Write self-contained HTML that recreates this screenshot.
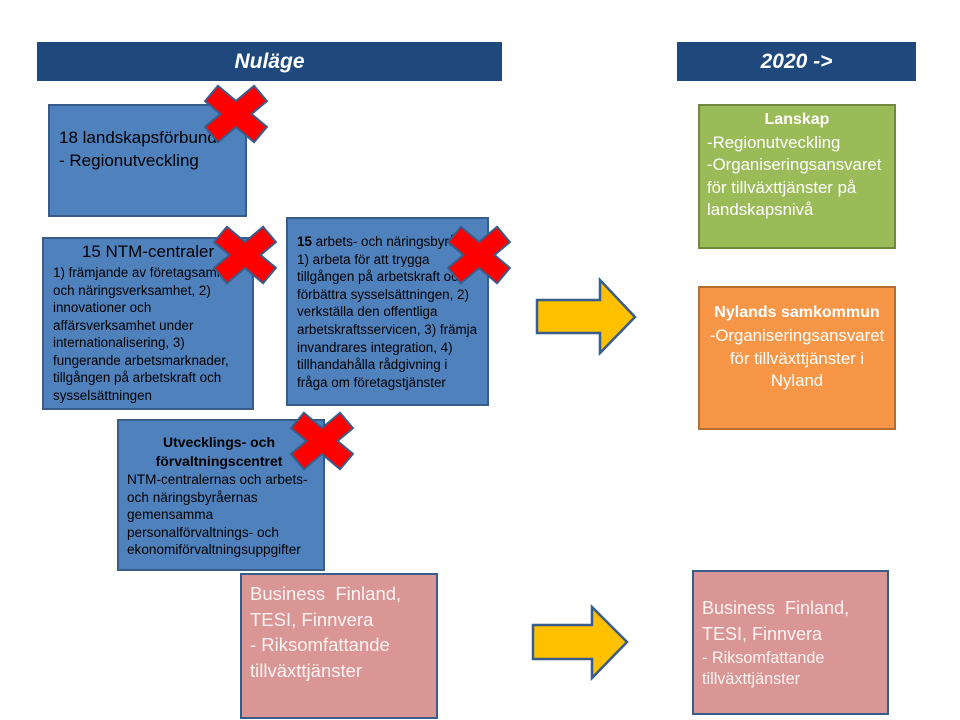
<!DOCTYPE html>
<html>
<head>
<meta charset="utf-8">
<style>
  html,body{margin:0;padding:0;background:#fff;}
  #c{position:relative;width:960px;height:720px;overflow:hidden;background:#fff;font-family:"Liberation Sans",Arial,sans-serif;}
  .bar{position:absolute;background:#1f497d;color:#fff;font-weight:bold;font-style:italic;font-size:21px;text-align:center;line-height:39px;height:39px;}
  .box{position:absolute;box-sizing:border-box;}
  .blue{background:#4f81bd;border:2px solid #385d8a;}
  .pink{background:#d99694;border:2.5px solid #385d8a;}
  .green{background:#9bbb59;border:2.5px solid #71893f;}
  .orange{background:#f79646;border:2.5px solid #b66d31;}
  .t{position:absolute;white-space:nowrap;}
  svg{position:absolute;left:0;top:0;}
</style>
</head>
<body>
<div id="c">
  <div class="bar" style="left:37px;top:42px;width:465px;">Nuläge</div>
  <div class="bar" style="left:677px;top:42px;width:239px;">2020 -&gt;</div>

  <!-- Box 1 -->
  <div class="box blue" style="left:48px;top:104px;width:199px;height:113px;"></div>
  <div class="t" style="left:59px;top:126px;font-size:17px;line-height:23px;color:#000;">18 landskapsförbund<br>- Regionutveckling</div>

  <!-- NTM -->
  <div class="box blue" style="left:42px;top:237px;width:212px;height:173px;"></div>
  <div class="t" style="left:42px;width:212px;text-align:center;top:241px;font-size:17px;line-height:22px;color:#000;">15 NTM-centraler</div>
  <div class="t" style="left:53px;top:264px;font-size:13.4px;line-height:17.5px;color:#000;">1) främjande av företagsamhet<br>och näringsverksamhet, 2)<br>innovationer och<br>affärsverksamhet under<br>internationalisering, 3)<br>fungerande arbetsmarknader,<br>tillgången på arbetskraft och<br>sysselsättningen</div>

  <!-- Arbets -->
  <div class="box blue" style="left:286px;top:217px;width:203px;height:189px;"></div>
  <div class="t" style="left:297px;top:233px;font-size:13.4px;line-height:17.6px;color:#000;"><b>15</b> arbets- och näringsbyrån<br>1) arbeta för att trygga<br>tillgången på arbetskraft och<br>förbättra sysselsättningen, 2)<br>verkställa den offentliga<br>arbetskraftsservicen, 3) främja<br>invandrares integration, 4)<br>tillhandahålla rådgivning i<br>fråga om företagstjänster</div>

  <!-- Utvecklings -->
  <div class="box blue" style="left:117px;top:419px;width:208px;height:152px;"></div>
  <div class="t" style="left:117px;width:204px;text-align:center;top:433px;font-size:14px;line-height:19px;font-weight:bold;color:#000;">Utvecklings- och<br>förvaltningscentret</div>
  <div class="t" style="left:127px;top:471px;font-size:13.6px;line-height:17.5px;color:#000;">NTM-centralernas och arbets-<br>och näringsbyråernas<br>gemensamma<br>personalförvaltnings- och<br>ekonomiförvaltningsuppgifter</div>

  <!-- Business left -->
  <div class="box pink" style="left:240px;top:573px;width:198px;height:146px;"></div>
  <div class="t" style="left:250px;top:581px;font-size:18.5px;line-height:25.7px;color:#fff3f3;">Business&nbsp; Finland,<br>TESI, Finnvera<br>- Riksomfattande<br>tillväxttjänster</div>

  <!-- Lanskap -->
  <div class="box green" style="left:698px;top:104px;width:198px;height:145px;"></div>
  <div class="t" style="left:698px;width:198px;text-align:center;top:110px;font-size:16px;line-height:20px;font-weight:bold;color:#fff;">Lanskap</div>
  <div class="t" style="left:707px;top:132px;font-size:16.8px;line-height:22.4px;color:#fff;">-Regionutveckling<br>-Organiseringsansvaret<br>för tillväxttjänster på<br>landskapsnivå</div>

  <!-- Nylands -->
  <div class="box orange" style="left:698px;top:286px;width:198px;height:144px;"></div>
  <div class="t" style="left:698px;width:198px;text-align:center;top:303px;font-size:16px;line-height:20px;font-weight:bold;color:#fff;">Nylands samkommun</div>
  <div class="t" style="left:698px;width:198px;text-align:center;top:325px;font-size:16.8px;line-height:22.5px;color:#fff;">-Organiseringsansvaret<br>för tillväxttjänster i<br>Nyland</div>

  <!-- Business right -->
  <div class="box pink" style="left:692px;top:570px;width:197px;height:145px;"></div>
  <div class="t" style="left:702px;top:595px;font-size:18px;line-height:26px;color:#fff3f3;">Business&nbsp; Finland,<br>TESI, Finnvera</div>
  <div class="t" style="left:702px;top:648px;font-size:16.2px;line-height:20.5px;color:#fff3f3;">- Riksomfattande<br>tillväxttjänster</div>

  <svg width="960" height="720" viewBox="0 0 960 720">
    <!-- arrows -->
    <polygon points="537,300 600,300 600,280 635,317 600,353 600,333 537,333" fill="#ffc000" stroke="#385d8a" stroke-width="2.5" stroke-linejoin="miter"/>
    <polygon points="533,625 592,625 592,607 627,642 592,678 592,659 533,659" fill="#ffc000" stroke="#385d8a" stroke-width="2.5" stroke-linejoin="miter"/>

    <defs>
      <g id="xs">
        <rect x="-31" y="-9" width="62" height="18" transform="rotate(40)" fill="#ff0000" stroke="#385d8a" stroke-width="4"/>
        <rect x="-31" y="-9" width="62" height="18" transform="rotate(-40)" fill="#ff0000" stroke="#385d8a" stroke-width="4"/>
        <rect x="-31" y="-9" width="62" height="18" transform="rotate(40)" fill="#ff0000"/>
        <rect x="-31" y="-9" width="62" height="18" transform="rotate(-40)" fill="#ff0000"/>
      </g>
    </defs>
    <use href="#xs" transform="translate(236,114)"/>
    <use href="#xs" transform="translate(245,255)"/>
    <use href="#xs" transform="translate(479,255)"/>
    <use href="#xs" transform="translate(322,441)"/>
  </svg>
</div>
</body>
</html>
